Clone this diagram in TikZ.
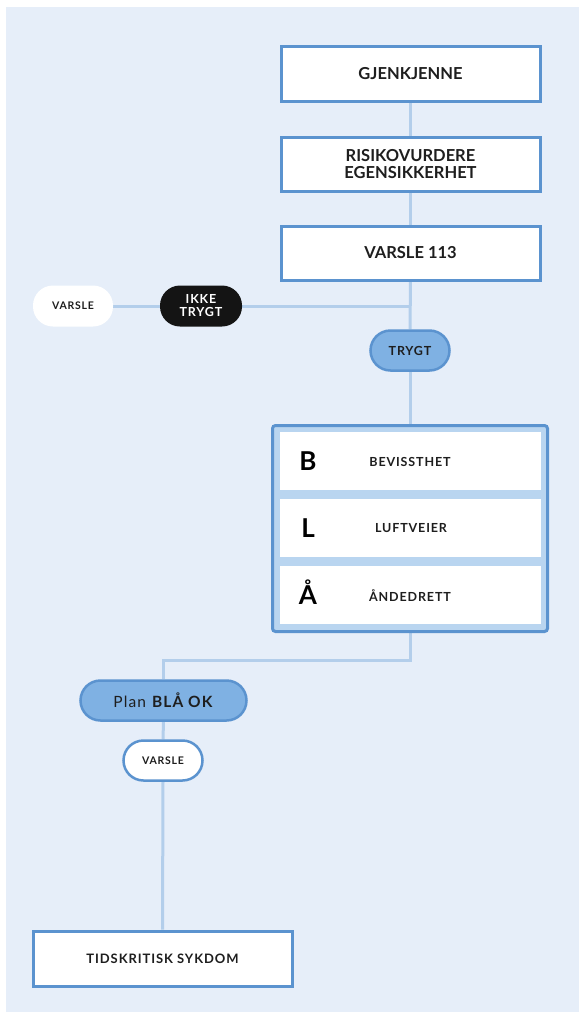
\documentclass[tikz,border=0pt]{standalone}
\usepackage{fontspec}
\setmainfont{Lato}
\newfontfamily\spc[LetterSpace=7]{Lato}
\usetikzlibrary{backgrounds}
\definecolor{bgc}{HTML}{E6EEF9}
\definecolor{bord}{HTML}{5B93CF}
\definecolor{conn}{HTML}{B3CEEB}
\definecolor{pillblue}{HTML}{7FB1E3}
\definecolor{boxfill}{HTML}{B9D5F0}
\definecolor{txt}{HTML}{1E1E1E}
\tikzset{
  titlebox/.style={draw=bord, line width=3pt, fill=white, minimum width=259pt, minimum height=55pt, inner sep=0pt, align=center, text=txt, font=\fontsize{16.5}{17}\selectfont\bfseries},
  pill/.style={rounded corners=20pt, minimum height=41pt, inner sep=0pt, align=center, font=\spc\fontsize{10.5}{11}\selectfont\bfseries, text=txt},
  rowbox/.style={fill=white, minimum width=261pt, minimum height=58pt, inner sep=0pt},
  rowtxt/.style={font=\spc\fontsize{12.5}{14}\selectfont\bfseries, text=txt},
  letter/.style={font=\fontsize{26}{28}\selectfont\bfseries, text=black},
  link/.style={draw=conn, line width=3pt}
}
\begin{document}
\begin{tikzpicture}[x=1pt,y=-1pt]
\useasboundingbox (0,0) rectangle (579,1012);
% nodes
\node[titlebox] (gj) at (410.5,73.5) {GJENKJENNE};
\node[titlebox, minimum height=54pt] (ris) at (410.5,164) {RISIKOVURDERE\\EGENSIKKERHET};
\node[titlebox, minimum height=54pt] (v113) at (410.5,253) {VARSLE 113};
\node[pill, fill=white, minimum width=80pt] (varsle) at (73,306) {VARSLE};
\node[pill, fill=black!92, text=white, minimum width=82pt, font=\spc\fontsize{12.5}{13}\selectfont\bfseries] (ikke) at (201,306) {IKKE\\TRYGT};
\node[pill, fill=pillblue, draw=bord, line width=2.5pt, minimum width=79pt, minimum height=40pt, font=\spc\fontsize{12.5}{14}\selectfont\bfseries] (trygt) at (410,350.5) {TRYGT};
\node[draw=bord, line width=3pt, fill=boxfill, rounded corners=3pt, minimum width=275pt, minimum height=206pt, inner sep=0pt] (blbox) at (410,528.5) {};
\node[rowbox] (rb) at (410.5,461) {};
\node[rowbox] (rl) at (410.5,528) {};
\node[rowbox] (ra) at (410.5,595) {};
\node[letter] (lb) at (308,461) {B};
\node[letter] (ll) at (308,528) {L};
\node[letter] (la) at (308,592) {Å};
\node[rowtxt] (tb) at (410,461.5) {BEVISSTHET};
\node[rowtxt] (tl) at (411,528.5) {LUFTVEIER};
\node[rowtxt] (ta) at (410,595.5) {ÅNDEDRETT};
\node[pill, fill=pillblue, draw=bord, line width=2.5pt, minimum width=166pt, minimum height=40pt, font=\spc\fontsize{15.5}{17}\selectfont] (plan) at (163.5,700.5) {Plan \textbf{BLÅ OK}};
\node[pill, fill=white, draw=bord, line width=2.5pt, minimum width=79pt, minimum height=40pt] (varsle2) at (163,760.5) {VARSLE};
\node[titlebox, font=\spc\fontsize{13}{14}\selectfont\bfseries] (tids) at (162.5,958.5) {TIDSKRITISK SYKDOM};
\coordinate (j) at (410,306);
\coordinate (k) at (410,660);
% background and connectors
\begin{scope}[on background layer]
\fill[bgc] (6,7) rectangle (579,1012);
\draw[link] (gj.south) -- (ris.north);
\draw[link] (ris.south) -- (v113.north);
\draw[link] (v113.south) -- (trygt.north);
\draw[link] (ikke.east) -- (j);
\draw[link] (varsle.east) -- (ikke.west);
\draw[link] (trygt.south) -- (blbox.north);
\draw[link] (blbox.south) -- (k) -| (plan.north);
\draw[link] (plan.south) -- (varsle2.north);
\draw[link] (varsle2.south) -- (tids.north);
\end{scope}
\end{tikzpicture}
\end{document}
